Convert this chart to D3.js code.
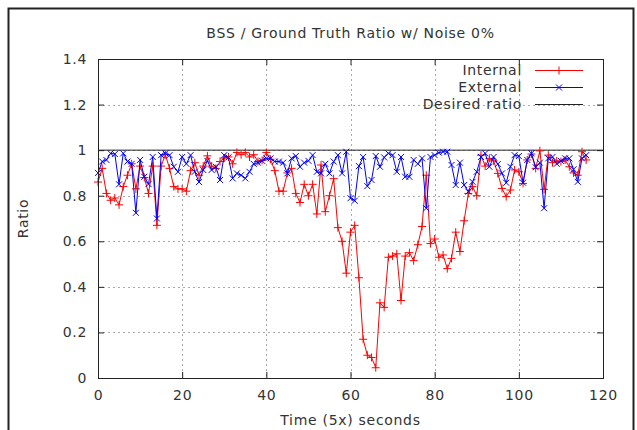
<!DOCTYPE html>
<html>
<head>
<meta charset="utf-8">
<script src="https://cdn.jsdelivr.net/npm/d3@7"></script>
<style>
  body { margin: 0; background: #fff; }
  svg { display: block; }
  text { font-family: "DejaVu Sans", sans-serif; fill: #333; letter-spacing: 0.7px; }
</style>
</head>
<body>
<svg id="chart" width="637" height="430"></svg>
<script>
// Values, one per 5-second step (x = 0..116)
const internalRatio = [
  0.86, 0.92, 0.81, 0.78, 0.79, 0.76, 0.84, 0.89, 0.94, 0.83,
  0.93, 0.88, 0.81, 0.93, 0.67, 0.93, 0.98, 0.92, 0.84, 0.83,
  0.83, 0.82, 0.91, 0.945, 0.89, 0.93, 0.975, 0.93, 0.92, 0.95,
  0.965, 0.97, 0.94, 0.99, 0.98, 0.99, 0.97, 0.98, 0.95, 0.955,
  0.99, 0.96, 0.91, 0.82, 0.82, 0.90, 0.92, 0.81, 0.77, 0.85,
  0.80, 0.85, 0.72, 0.935, 0.73, 0.80, 0.875, 0.66, 0.60, 0.46,
  0.64, 0.67, 0.44, 0.17, 0.10, 0.09, 0.045, 0.33, 0.31, 0.53,
  0.535, 0.545, 0.34, 0.535, 0.55, 0.515, 0.585, 0.665, 0.89, 0.59,
  0.61, 0.53, 0.54, 0.48, 0.525, 0.64, 0.555, 0.69, 0.81, 0.84,
  0.80, 0.978, 0.93, 0.964, 0.953, 0.898, 0.832, 0.796, 0.825, 0.913,
  0.905, 0.854, 0.957, 0.983, 0.92, 0.997, 0.828, 0.978, 0.945, 0.953,
  0.95, 0.957, 0.927, 0.90, 0.89, 0.993, 0.957
];
const externalRatio = [
  0.90, 0.95, 0.957, 0.986, 0.983, 0.85, 0.986, 0.95, 0.94, 0.725,
  0.957, 0.883, 0.851, 0.97, 0.70, 0.978, 0.986, 0.978, 0.927, 0.905,
  0.97, 0.94, 0.978, 0.905, 0.86, 0.913, 0.953, 0.913, 0.927, 0.869,
  0.978, 0.968, 0.876, 0.898, 0.89, 0.876, 0.905, 0.94, 0.945, 0.953,
  0.964, 0.964, 0.95, 0.95, 0.945, 0.898, 0.964, 0.974, 0.927, 0.945,
  0.953, 0.978, 0.905, 0.898, 0.94, 0.898, 0.95, 0.978, 0.898, 0.993,
  0.789, 0.778, 0.93, 0.97, 0.842, 0.869, 0.974, 0.927, 0.968, 0.986,
  0.978, 0.905, 0.97, 0.883, 0.883, 0.957, 0.94, 0.964, 0.745, 0.97,
  0.978, 0.989, 0.993, 0.993, 0.935, 0.847, 0.945, 0.847, 0.818, 0.861,
  0.905, 0.97, 0.986, 0.927, 0.97, 0.939, 0.898, 0.857, 0.927, 0.978,
  0.974, 0.857, 0.957, 0.986, 0.925, 0.945, 0.745, 0.964, 0.97, 0.94,
  0.953, 0.964, 0.964, 0.916, 0.861, 0.964, 0.978
];
const desiredX = [0, 120];
const desiredRatio = [1, 1];

const xTicks = [0, 20, 40, 60, 80, 100, 120];
const yTicks = [0, 0.2, 0.4, 0.6, 0.8, 1, 1.2, 1.4];
const legendNames = ["Internal", "External", "Desired ratio"];

const svg = d3.select('#chart');

// outer frame of the screenshot
svg.append('rect')
    .attr('x', 8.5).attr('y', 8.5)
    .attr('width', 625).attr('height', 430)
    .attr('fill', 'none').attr('stroke', '#222').attr('stroke-width', 2);

const plot = { left: 98, right: 603, top: 59, bottom: 378 };

const x = d3.scaleLinear().domain([0, 120]).range([plot.left, plot.right]);
const y = d3.scaleLinear().domain([0, 1.4]).range([plot.bottom, plot.top]);

// grid
const grid = svg.append('g').attr('stroke', '#aaa').attr('stroke-dasharray', '2,3');
grid.selectAll('.gx')
    .data(xTicks.slice(1, -1))
    .enter().append('line')
    .attr('x1', d => Math.round(x(d)) + 0.5).attr('x2', d => Math.round(x(d)) + 0.5)
    .attr('y1', plot.top).attr('y2', plot.bottom);
grid.selectAll('.gy')
    .data(yTicks.slice(1, -1))
    .enter().append('line')
    .attr('y1', d => Math.round(y(d)) + 0.5).attr('y2', d => Math.round(y(d)) + 0.5)
    .attr('x1', plot.left).attr('x2', plot.right);

// axes with inward ticks on all four sides
const fmt = d => d3.format('~g')(d);
const axB = svg.append('g').attr('transform', `translate(0,${plot.bottom})`)
    .call(d3.axisBottom(x).tickValues(xTicks).tickSize(-6).tickPadding(12).tickFormat(fmt));
const axT = svg.append('g').attr('transform', `translate(0,${plot.top})`)
    .call(d3.axisTop(x).tickValues(xTicks).tickSize(-6).tickFormat(''));
const axL = svg.append('g').attr('transform', `translate(${plot.left},0)`)
    .call(d3.axisLeft(y).tickValues(yTicks).tickSize(-6).tickPadding(11).tickFormat(fmt));
const axR = svg.append('g').attr('transform', `translate(${plot.right},0)`)
    .call(d3.axisRight(y).tickValues(yTicks).tickSize(-6).tickFormat(''));
[axB, axT, axL, axR].forEach(a => {
    a.select('.domain').remove();
    a.selectAll('line').attr('stroke', '#222');
    a.selectAll('text').style('font-size', '14px').attr('fill', '#333');
});

// series
const lineXY = d3.line().x(d => x(d[0])).y(d => y(d[1]));
const internalPts = internalRatio.map((v, i) => [i, v]);
const externalPts = externalRatio.map((v, i) => [i, v]);
const desiredPts = desiredX.map((v, i) => [v, desiredRatio[i]]);

function plusPath(cx, cy, r) {
    return `M${cx - r},${cy}H${cx + r}M${cx},${cy - r}V${cy + r}`;
}
function crossPath(cx, cy, r) {
    return `M${cx - r},${cy - r}L${cx + r},${cy + r}M${cx - r},${cy + r}L${cx + r},${cy - r}`;
}

svg.append('path').datum(desiredPts)
    .attr('d', lineXY).attr('fill', 'none').attr('stroke', '#222').attr('stroke-width', 1);

svg.append('path').datum(internalPts)
    .attr('d', lineXY).attr('fill', 'none').attr('stroke', '#ff0000').attr('stroke-width', 1);
svg.append('path')
    .attr('d', internalPts.map(p => plusPath(x(p[0]), y(p[1]), 4)).join(''))
    .attr('fill', 'none').attr('stroke', '#ff0000').attr('stroke-width', 1);

svg.append('path').datum(externalPts)
    .attr('d', lineXY).attr('fill', 'none').attr('stroke', '#0000ff').attr('stroke-width', 1);
svg.append('path')
    .attr('d', externalPts.map(p => crossPath(x(p[0]), y(p[1]), 3)).join(''))
    .attr('fill', 'none').attr('stroke', '#0000ff').attr('stroke-width', 1);

// border
svg.append('rect')
    .attr('x', plot.left + 0.5).attr('y', plot.top + 0.5)
    .attr('width', plot.right - plot.left).attr('height', plot.bottom - plot.top)
    .attr('fill', 'none').attr('stroke', '#222').attr('stroke-width', 1);

// legend
const legColors = ['#ff0000', '#0000ff', '#222'];
const leg = svg.selectAll('.leg')
    .data(legendNames)
    .enter().append('g')
    .attr('transform', (d, i) => `translate(0,${70 + i * 17})`);
leg.append('text')
    .attr('x', 522).attr('y', 0).attr('dy', '0.35em')
    .attr('text-anchor', 'end').style('font-size', '14px')
    .text(d => d);
leg.append('line')
    .attr('x1', 535).attr('x2', 583).attr('y1', 0.5).attr('y2', 0.5)
    .attr('stroke', (d, i) => legColors[i]);
leg.filter((d, i) => i < 2).append('path')
    .attr('d', (d, i) => i === 0 ? plusPath(559, 0.5, 4) : crossPath(559, 0.5, 3))
    .attr('fill', 'none').attr('stroke', (d, i) => legColors[i]);

// titles
svg.append('text')
    .attr('x', (plot.left + plot.right) / 2).attr('y', 33).attr('dy', '0.35em')
    .attr('text-anchor', 'middle').style('font-size', '14px')
    .text('BSS / Ground Truth Ratio w/ Noise 0%');
svg.append('text')
    .attr('x', (plot.left + plot.right) / 2).attr('y', 420).attr('dy', '0.35em')
    .attr('text-anchor', 'middle').style('font-size', '14px')
    .text('Time (5x) seconds');
svg.append('text')
    .attr('transform', `translate(23,${(plot.top + plot.bottom) / 2}) rotate(-90)`)
    .attr('dy', '0.35em')
    .attr('text-anchor', 'middle').style('font-size', '14px')
    .text('Ratio');
</script>
</body>
</html>
